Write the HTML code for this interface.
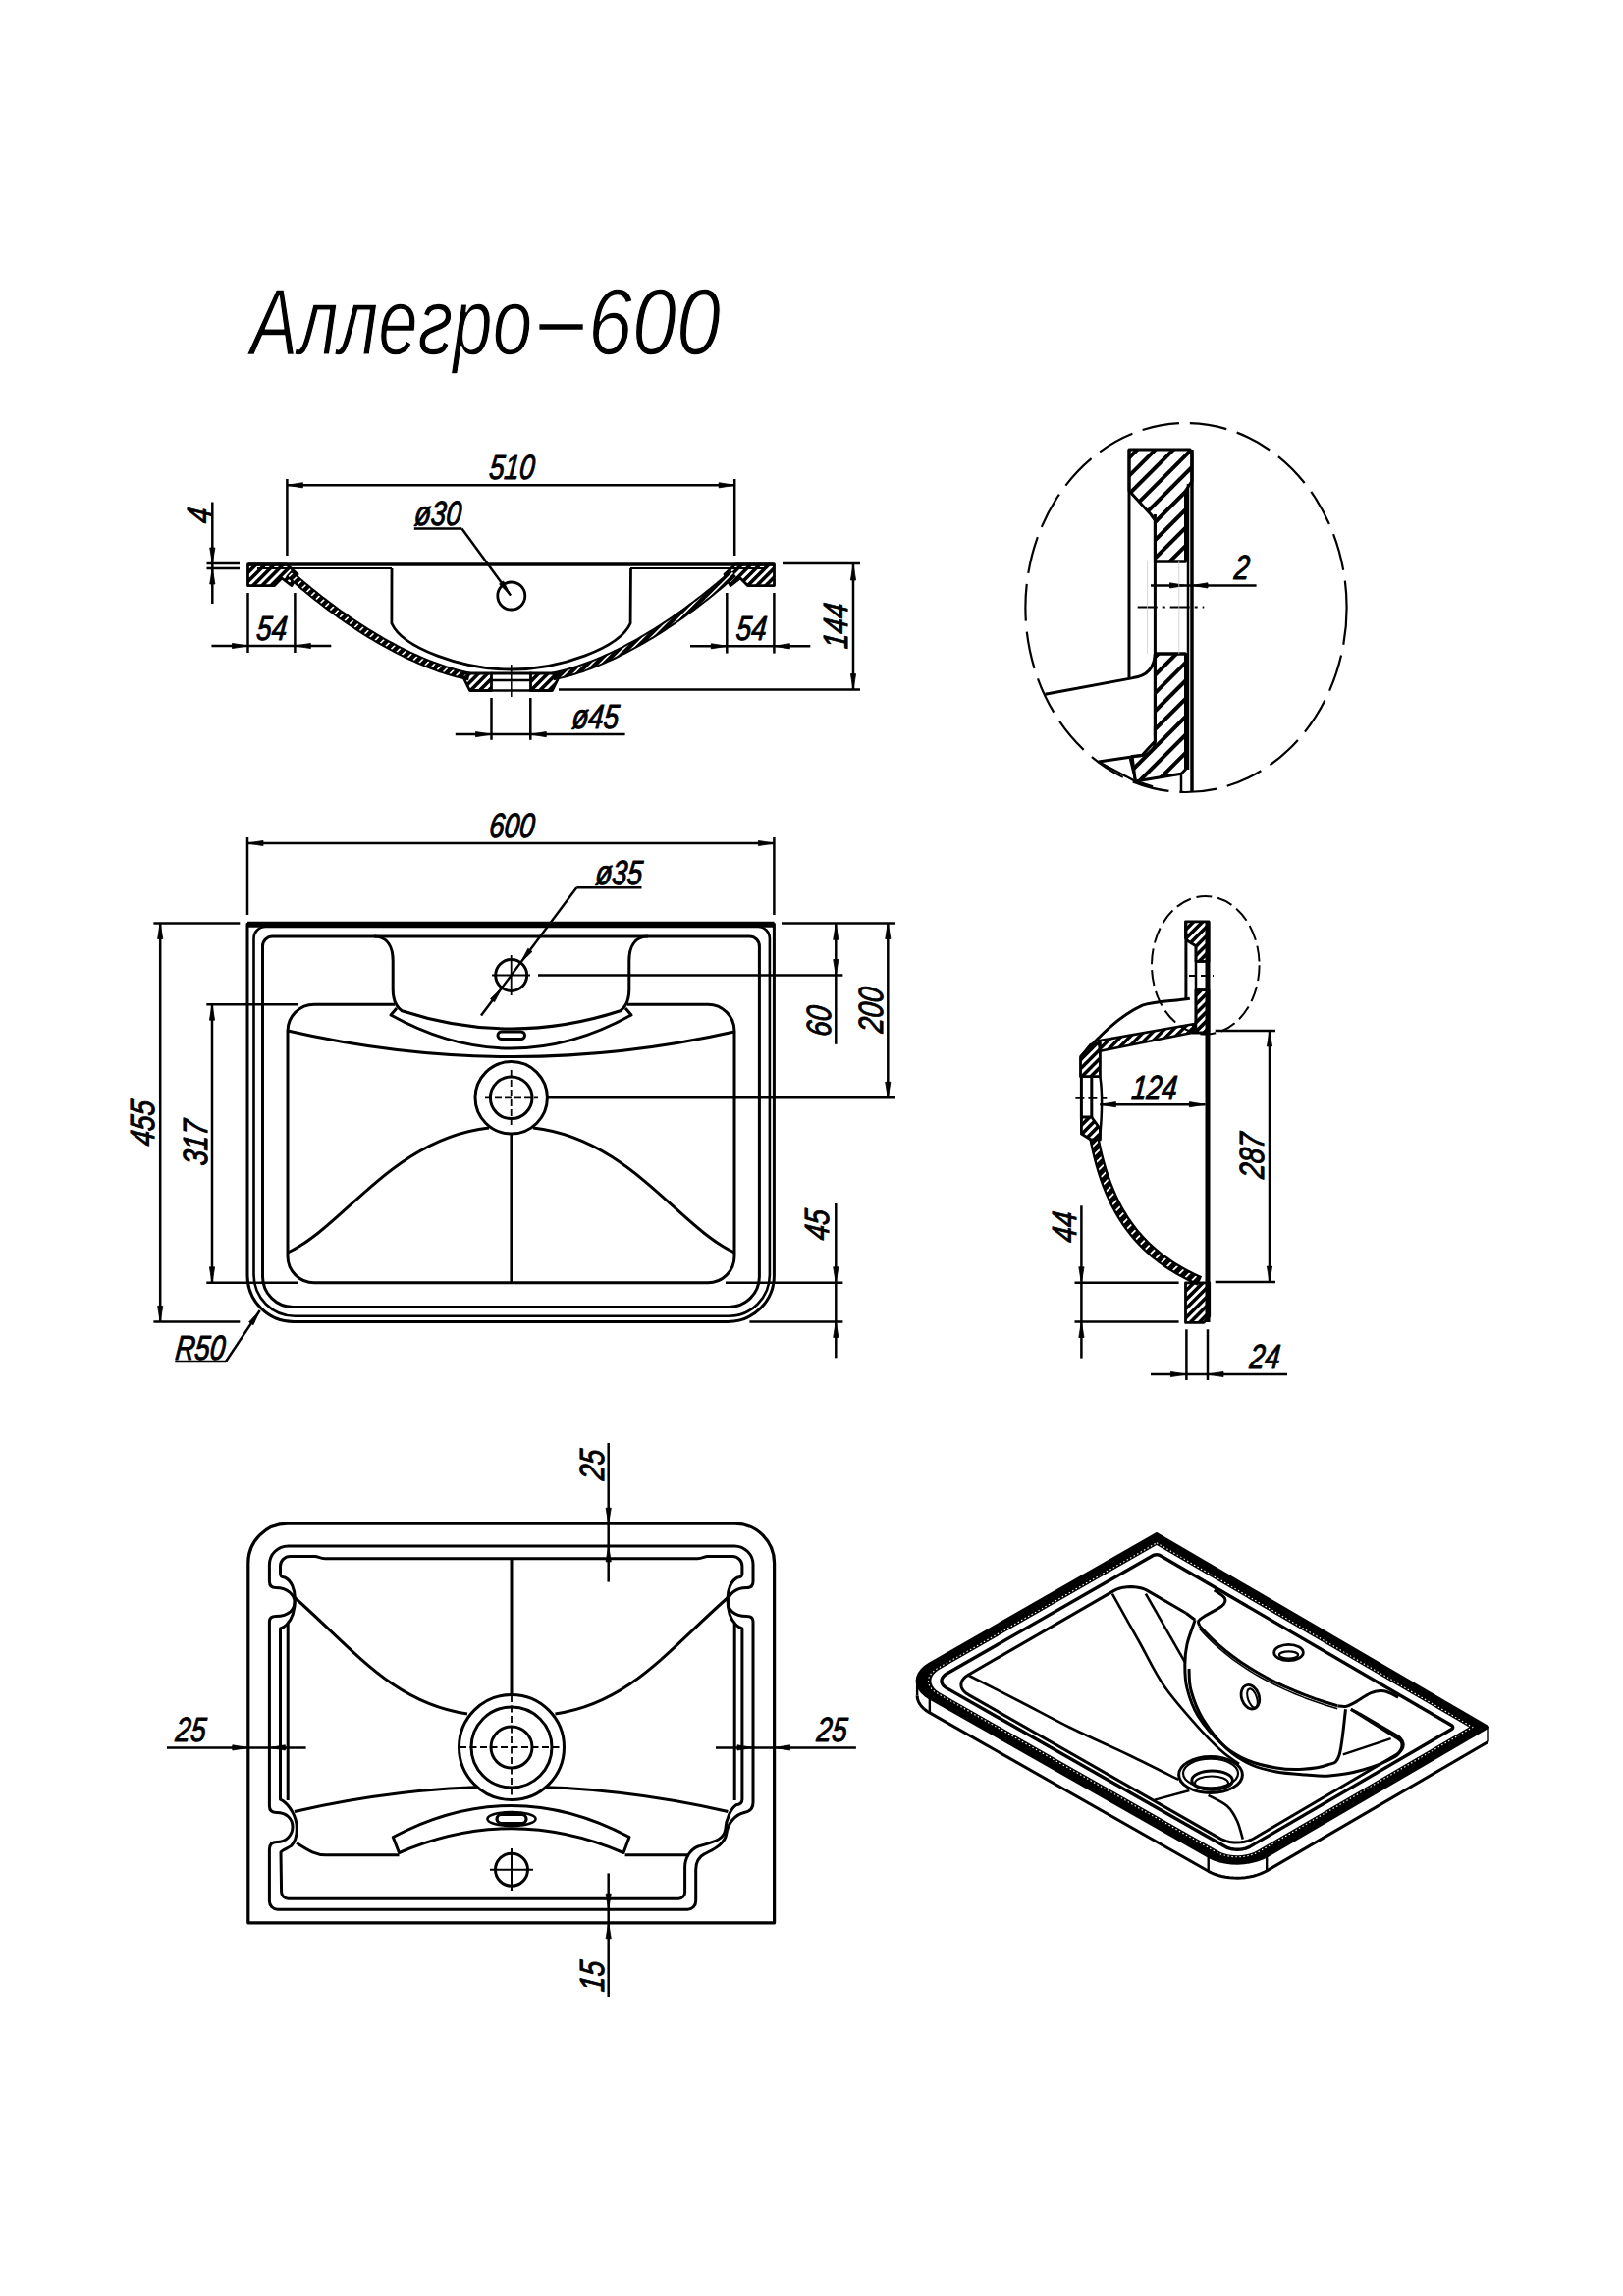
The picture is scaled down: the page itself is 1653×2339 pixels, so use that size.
<!DOCTYPE html>
<html><head><meta charset="utf-8"><style>
html,body{margin:0;padding:0;background:#fff;overflow:hidden;width:1653px;height:2339px;}
svg{display:block;}
text{font-family:"Liberation Sans", sans-serif;}
</style></head><body>
<svg width="1653" height="2339" viewBox="0 0 1653 2339" stroke="#000" fill="none" stroke-linecap="butt" stroke-linejoin="round">
<defs>
<clipPath id="c0"><path d="M252.5,575 L292,575 L303,585 L297,596.6 L287,589 L279.5,596.6 L252.5,596.6 Z"/></clipPath><clipPath id="c1"><path d="M292.41,585.8 L295.32,588.38 L298.3,590.98 L301.34,593.6 L304.43,596.24 L307.59,598.9 L310.8,601.56 L314.06,604.23 L317.38,606.91 L320.75,609.6 L324.16,612.28 L327.63,614.97 L331.15,617.65 L334.71,620.32 L338.31,622.99 L341.96,625.65 L345.65,628.29 L349.38,630.92 L353.15,633.53 L356.95,636.12 L360.79,638.68 L364.67,641.23 L368.58,643.74 L372.53,646.22 L376.5,648.67 L380.5,651.09 L384.53,653.47 L388.59,655.81 L392.67,658.1 L396.78,660.35 L400.91,662.56 L405.06,664.71 L409.23,666.82 L413.42,668.86 L417.62,670.85 L421.84,672.79 L426.08,674.66 L430.33,676.46 L434.58,678.2 L438.85,679.87 L443.13,681.46 L447.42,682.99 L451.71,684.43 L456.01,685.8 L460.31,687.08 L464.61,688.28 L468.91,689.4 L473.22,690.42 L477.49,691.35 L478.51,686.65 L474.28,685.74 L470.07,684.74 L465.86,683.65 L461.64,682.47 L457.42,681.21 L453.2,679.87 L448.99,678.45 L444.77,676.95 L440.57,675.38 L436.36,673.74 L432.17,672.03 L427.99,670.25 L423.81,668.41 L419.65,666.5 L415.5,664.54 L411.36,662.52 L407.25,660.44 L403.15,658.31 L399.06,656.13 L395,653.91 L390.97,651.64 L386.95,649.32 L382.96,646.97 L379,644.58 L375.07,642.15 L371.16,639.69 L367.29,637.2 L363.44,634.68 L359.64,632.14 L355.86,629.57 L352.13,626.98 L348.43,624.38 L344.77,621.76 L341.15,619.12 L337.57,616.47 L334.04,613.82 L330.56,611.16 L327.12,608.5 L323.72,605.83 L320.38,603.17 L317.09,600.51 L313.85,597.86 L310.67,595.21 L307.54,592.58 L304.46,589.96 L301.45,587.36 L298.49,584.77 L295.59,582.2 Z"/></clipPath><clipPath id="c2"><path d="M470,686 L500.5,686 L500.5,703.5 L478.5,703.5 Z"/></clipPath><clipPath id="c3"><path d="M788.5,575 L749,575 L738,585 L744,596.6 L754,589 L761.5,596.6 L788.5,596.6 Z"/></clipPath><clipPath id="c4"><path d="M745.41,582.2 L742.51,584.77 L739.55,587.36 L736.54,589.96 L733.46,592.58 L730.33,595.21 L727.15,597.86 L723.91,600.51 L720.62,603.17 L717.28,605.83 L713.88,608.5 L710.44,611.16 L706.96,613.82 L703.43,616.47 L699.85,619.12 L696.23,621.76 L692.57,624.38 L688.87,626.98 L685.14,629.57 L681.36,632.14 L677.56,634.68 L673.71,637.2 L669.84,639.69 L665.93,642.15 L662,644.58 L658.04,646.97 L654.05,649.32 L650.03,651.64 L646,653.91 L641.94,656.13 L637.85,658.31 L633.75,660.44 L629.64,662.52 L625.5,664.54 L621.35,666.5 L617.19,668.41 L613.01,670.25 L608.83,672.03 L604.64,673.74 L600.43,675.38 L596.23,676.95 L592.01,678.45 L587.8,679.87 L583.58,681.21 L579.36,682.47 L575.14,683.65 L570.93,684.74 L566.72,685.74 L562.49,686.65 L563.51,691.35 L567.78,690.42 L572.09,689.4 L576.39,688.28 L580.69,687.08 L584.99,685.8 L589.29,684.43 L593.58,682.99 L597.87,681.46 L602.15,679.87 L606.42,678.2 L610.67,676.46 L614.92,674.66 L619.16,672.79 L623.38,670.85 L627.58,668.86 L631.77,666.82 L635.94,664.71 L640.09,662.56 L644.22,660.35 L648.33,658.1 L652.41,655.81 L656.47,653.47 L660.5,651.09 L664.5,648.67 L668.47,646.22 L672.42,643.74 L676.33,641.23 L680.21,638.68 L684.05,636.12 L687.85,633.53 L691.62,630.92 L695.35,628.29 L699.04,625.65 L702.69,622.99 L706.29,620.32 L709.85,617.65 L713.37,614.97 L716.84,612.28 L720.25,609.6 L723.62,606.91 L726.94,604.23 L730.2,601.56 L733.41,598.9 L736.57,596.24 L739.66,593.6 L742.7,590.98 L745.68,588.38 L748.59,585.8 Z"/></clipPath><clipPath id="c5"><path d="M571,686 L540.5,686 L540.5,703.5 L562.5,703.5 Z"/></clipPath><clipPath id="c6"><path d="M1150,458 L1212,458 L1214,462 L1214,490 L1207.5,500 L1207.5,572 L1176.4,572 L1176.4,530 L1172,524 L1150,500 Z"/></clipPath><clipPath id="c7"><path d="M1176.4,666 L1207.5,666 L1207.5,783.8 L1203,788.2 L1156.4,796 L1153,770.5 L1163,769.5 L1176.4,755 Z"/></clipPath><clipPath id="c8"><path d="M1207.5,938.8 L1231,938.8 L1231,979.4 L1218,979.4 L1218,963.8 L1210,958.7 L1207.5,956 Z"/></clipPath><clipPath id="c9"><path d="M1218,1008.7 L1231,1008.7 L1231,1052 L1215,1052 L1218,1040 Z"/></clipPath><clipPath id="c10"><path d="M1118.7,1060.4 L1215.3,1043.2 L1215.3,1051.8 L1120.4,1070.8 Z"/></clipPath><clipPath id="c11"><path d="M1100.5,1076.8 L1111,1064 L1120.4,1062 L1120.4,1096.7 L1100.5,1096.7 Z"/></clipPath><clipPath id="c12"><path d="M1101.4,1138 L1111.8,1138 L1120.4,1150 L1120.4,1161 L1111,1161 L1101.4,1155 Z"/></clipPath><clipPath id="c13"><path d="M1111.75,1160.55 L1112.63,1164.95 L1113.56,1169.3 L1114.53,1173.59 L1115.55,1177.81 L1116.61,1181.98 L1117.72,1186.08 L1118.87,1190.13 L1120.08,1194.11 L1121.34,1198.03 L1122.65,1201.9 L1124.01,1205.7 L1125.42,1209.45 L1126.89,1213.13 L1128.42,1216.76 L1130,1220.33 L1131.65,1223.85 L1133.35,1227.3 L1135.11,1230.7 L1136.93,1234.05 L1138.82,1237.33 L1140.76,1240.56 L1142.78,1243.74 L1144.86,1246.86 L1147,1249.92 L1149.21,1252.93 L1151.49,1255.88 L1153.84,1258.78 L1156.27,1261.62 L1158.76,1264.41 L1161.32,1267.15 L1163.96,1269.83 L1166.67,1272.46 L1169.46,1275.04 L1172.32,1277.56 L1175.26,1280.03 L1178.28,1282.45 L1181.37,1284.82 L1184.55,1287.14 L1187.8,1289.4 L1191.14,1291.62 L1194.56,1293.78 L1198.06,1295.89 L1201.64,1297.96 L1205.32,1299.98 L1209.07,1301.94 L1212.91,1303.86 L1216.85,1305.73 L1220.84,1307.55 L1223.16,1302.45 L1219.21,1300.66 L1215.37,1298.83 L1211.62,1296.96 L1207.96,1295.04 L1204.39,1293.08 L1200.9,1291.07 L1197.5,1289.02 L1194.19,1286.92 L1190.95,1284.77 L1187.8,1282.58 L1184.72,1280.33 L1181.73,1278.04 L1178.81,1275.71 L1175.97,1273.32 L1173.21,1270.88 L1170.52,1268.4 L1167.91,1265.86 L1165.36,1263.27 L1162.89,1260.63 L1160.49,1257.94 L1158.15,1255.2 L1155.88,1252.41 L1153.68,1249.56 L1151.55,1246.65 L1149.48,1243.7 L1147.47,1240.69 L1145.53,1237.62 L1143.64,1234.49 L1141.82,1231.31 L1140.05,1228.08 L1138.35,1224.78 L1136.7,1221.43 L1135.1,1218.01 L1133.56,1214.54 L1132.08,1211.01 L1130.64,1207.42 L1129.26,1203.77 L1127.94,1200.05 L1126.66,1196.28 L1125.43,1192.44 L1124.25,1188.54 L1123.11,1184.58 L1122.03,1180.56 L1120.98,1176.47 L1119.99,1172.31 L1119.03,1168.1 L1118.12,1163.81 L1117.25,1159.45 Z"/></clipPath><clipPath id="c14"><path d="M1207.5,1306.8 L1231.7,1306.8 L1231.7,1341 L1226,1347.4 L1207.5,1347.4 Z"/></clipPath>
<pattern id="h1" patternUnits="userSpaceOnUse" width="7" height="7" patternTransform="rotate(45)"><rect width="7" height="7" fill="#000"/><line x1="0" y1="3.5" x2="7" y2="3.5" stroke="#fff" stroke-width="1.6"/></pattern>
<pattern id="h2" patternUnits="userSpaceOnUse" width="7" height="7" patternTransform="rotate(-45)"><rect width="7" height="7" fill="#fff"/><line x1="0" y1="3.5" x2="7" y2="3.5" stroke="#000" stroke-width="2.6"/></pattern>
<pattern id="h3" patternUnits="userSpaceOnUse" width="13" height="13" patternTransform="rotate(-45)"><rect width="13" height="13" fill="#fff"/><line x1="0" y1="6.5" x2="13" y2="6.5" stroke="#000" stroke-width="3"/></pattern>
</defs>
<rect x="0" y="0" width="1653" height="2339" fill="#fff" stroke="none"/>
<text x="255" y="361" font-size="96" font-style="italic" fill="#000" stroke="#fff" stroke-width="1.3" textLength="287" lengthAdjust="spacingAndGlyphs">Аллегро</text>
<text x="599" y="361" font-size="96" font-style="italic" fill="#000" stroke="#fff" stroke-width="1.3" textLength="135" lengthAdjust="spacingAndGlyphs">600</text>
<line x1="549.4" y1="333" x2="593.7" y2="333" stroke-width="5.5" />
<line x1="292.4" y1="488" x2="292.4" y2="566" stroke-width="2.5" />
<line x1="748.2" y1="488" x2="748.2" y2="566" stroke-width="2.5" />
<line x1="292.4" y1="494.3" x2="748.2" y2="494.3" stroke-width="2.5" />
<polygon points="292.4,494.3 308.4,491.7 308.4,496.9" stroke-width="0.8" fill="#000" stroke="#000"/>
<polygon points="748.2,494.3 732.2,496.9 732.2,491.7" stroke-width="0.8" fill="#000" stroke="#000"/>
<text transform="translate(520.5,487.5) scale(0.79,1) skewX(-7)" text-anchor="middle" font-size="35" font-style="italic" fill="#000" stroke="#000" stroke-width="1.0" >510</text>
<line x1="252.5" y1="575" x2="788.4" y2="575" stroke-width="3.5" />
<line x1="262" y1="579" x2="399" y2="579" stroke-width="2.2" />
<line x1="642" y1="579" x2="779" y2="579" stroke-width="2.2" />
<g clip-path="url(#c0)"><path d="M213.38,604.12 L604.12,213.38 M217.97,608.72 L608.72,217.97 M222.57,613.32 L613.32,222.57 M227.16,617.91 L617.91,227.16 M231.76,622.51 L622.51,231.76 M236.36,627.1 L627.1,236.36 M240.95,631.7 L631.7,240.95 M245.55,636.3 L636.3,245.55 M250.15,640.89 L640.89,250.15 M254.74,645.49 L645.49,254.74 M259.34,650.09 L650.09,259.34" stroke-width="3.6" stroke="#000"/></g>
<path d="M252.5,575 L292,575 L303,585 L297,596.6 L287,589 L279.5,596.6 L252.5,596.6 Z" stroke-width="2.8"/>
<polygon points="291.08,587.29 294,589.88 296.99,592.49 300.04,595.12 303.14,597.77 306.31,600.43 309.52,603.1 312.8,605.79 316.13,608.47 319.5,611.17 322.93,613.86 326.41,616.55 329.94,619.24 333.51,621.93 337.13,624.6 340.79,627.27 344.49,629.92 348.23,632.56 352.01,635.18 355.83,637.78 359.69,640.35 363.58,642.9 367.51,645.43 371.47,647.92 375.46,650.38 379.48,652.81 383.53,655.2 387.6,657.55 391.7,659.85 395.83,662.11 399.98,664.33 404.15,666.49 408.34,668.61 412.55,670.67 416.78,672.67 421.02,674.61 425.28,676.49 429.56,678.31 433.84,680.06 438.14,681.74 442.45,683.34 446.76,684.88 451.09,686.33 455.42,687.71 459.75,689 464.09,690.21 468.43,691.34 472.77,692.37 477.07,693.3 478.93,684.7 474.72,683.79 470.55,682.8 466.38,681.71 462.19,680.55 458.01,679.3 453.83,677.97 449.64,676.56 445.46,675.07 441.28,673.51 437.11,671.88 432.94,670.18 428.78,668.42 424.63,666.58 420.49,664.69 416.37,662.74 412.25,660.73 408.16,658.66 404.08,656.54 400.02,654.37 395.98,652.16 391.96,649.9 387.96,647.59 383.99,645.25 380.04,642.87 376.12,640.45 372.23,638 368.37,635.52 364.55,633.01 360.75,630.48 356.99,627.92 353.27,625.34 349.59,622.75 345.94,620.13 342.33,617.51 338.77,614.87 335.25,612.23 331.77,609.58 328.35,606.92 324.96,604.26 321.63,601.61 318.35,598.96 315.12,596.31 311.95,593.68 308.83,591.05 305.76,588.44 302.76,585.85 299.81,583.27 296.92,580.71" stroke-width="0" fill="#000" />
<g clip-path="url(#c1)"><path d="M-236.42,1101.03 L1101.03,-236.42 M-232.18,1105.28 L1105.28,-232.18 M-227.94,1109.52 L1109.52,-227.94 M-223.69,1113.76 L1113.76,-223.69 M-219.45,1118.01 L1118.01,-219.45 M-215.21,1122.25 L1122.25,-215.21 M-210.97,1126.49 L1126.49,-210.97 M-206.72,1130.73 L1130.73,-206.72 M-202.48,1134.98 L1134.98,-202.48 M-198.24,1139.22 L1139.22,-198.24 M-194,1143.46 L1143.46,-194 M-189.75,1147.7 L1147.7,-189.75 M-185.51,1151.95 L1151.95,-185.51 M-181.27,1156.19 L1156.19,-181.27 M-177.03,1160.43 L1160.43,-177.03 M-172.78,1164.67 L1164.67,-172.78 M-168.54,1168.92 L1168.92,-168.54 M-164.3,1173.16 L1173.16,-164.3 M-160.06,1177.4 L1177.4,-160.06 M-155.81,1181.64 L1181.64,-155.81 M-151.57,1185.89 L1185.89,-151.57 M-147.33,1190.13 L1190.13,-147.33 M-143.08,1194.37 L1194.37,-143.08 M-138.84,1198.62 L1198.62,-138.84 M-134.6,1202.86 L1202.86,-134.6 M-130.36,1207.1 L1207.1,-130.36 M-126.11,1211.34 L1211.34,-126.11 M-121.87,1215.59 L1215.59,-121.87 M-117.63,1219.83 L1219.83,-117.63 M-113.39,1224.07 L1224.07,-113.39 M-109.14,1228.31 L1228.31,-109.14 M-104.9,1232.56 L1232.56,-104.9 M-100.66,1236.8 L1236.8,-100.66 M-96.42,1241.04 L1241.04,-96.42 M-92.17,1245.28 L1245.28,-92.17 M-87.93,1249.53 L1249.53,-87.93 M-83.69,1253.77 L1253.77,-83.69 M-79.44,1258.01 L1258.01,-79.44" stroke-width="1.6" stroke="#fff"/></g>
<g clip-path="url(#c2)"><path d="M428.75,717.25 L717.25,428.75 M433.35,721.85 L721.85,433.35 M437.94,726.44 L726.44,437.94 M442.54,731.04 L731.04,442.54 M447.13,735.63 L735.63,447.13 M451.73,740.23 L740.23,451.73 M456.33,744.83 L744.83,456.33 M460.92,749.42 L749.42,460.92" stroke-width="3.6" stroke="#000"/></g>
<path d="M470,686 L500.5,686 L500.5,703.5 L478.5,703.5 Z" stroke-width="2.8"/>
<g clip-path="url(#c3)"><path d="M456.13,846.87 L846.87,456.13 M460.72,851.47 L851.47,460.72 M465.32,856.07 L856.07,465.32 M469.91,860.66 L860.66,469.91 M474.51,865.26 L865.26,474.51 M479.11,869.85 L869.85,479.11 M483.7,874.45 L874.45,483.7 M488.3,879.05 L879.05,488.3 M492.9,883.64 L883.64,492.9 M497.49,888.24 L888.24,497.49 M502.09,892.84 L892.84,502.09" stroke-width="3.6" stroke="#000"/></g>
<path d="M788.5,575 L749,575 L738,585 L744,596.6 L754,589 L761.5,596.6 L788.5,596.6 Z" stroke-width="2.8"/>
<polygon points="744.08,580.71 741.19,583.27 738.24,585.85 735.24,588.44 732.17,591.05 729.05,593.68 725.88,596.31 722.65,598.96 719.37,601.61 716.04,604.26 712.65,606.92 709.23,609.58 705.75,612.23 702.23,614.87 698.67,617.51 695.06,620.13 691.41,622.75 687.73,625.34 684.01,627.92 680.25,630.48 676.45,633.01 672.63,635.52 668.77,638 664.88,640.45 660.96,642.87 657.01,645.25 653.04,647.59 649.04,649.9 645.02,652.16 640.98,654.37 636.92,656.54 632.84,658.66 628.75,660.73 624.63,662.74 620.51,664.69 616.37,666.58 612.22,668.42 608.06,670.18 603.89,671.88 599.72,673.51 595.54,675.07 591.36,676.56 587.17,677.97 582.99,679.3 578.81,680.55 574.62,681.71 570.45,682.8 566.28,683.79 562.07,684.7 563.93,693.3 568.23,692.37 572.57,691.34 576.91,690.21 581.25,689 585.58,687.71 589.91,686.33 594.24,684.88 598.55,683.34 602.86,681.74 607.16,680.06 611.44,678.31 615.72,676.49 619.98,674.61 624.22,672.67 628.45,670.67 632.66,668.61 636.85,666.49 641.02,664.33 645.17,662.11 649.3,659.85 653.4,657.55 657.47,655.2 661.52,652.81 665.54,650.38 669.53,647.92 673.49,645.43 677.42,642.9 681.31,640.35 685.17,637.78 688.99,635.18 692.77,632.56 696.51,629.92 700.21,627.27 703.87,624.6 707.49,621.93 711.06,619.24 714.59,616.55 718.07,613.86 721.5,611.17 724.87,608.47 728.2,605.79 731.48,603.1 734.69,600.43 737.86,597.77 740.96,595.12 744.01,592.49 747,589.88 749.92,587.29" stroke-width="0" fill="#000" />
<g clip-path="url(#c4)"><path d="M-101.38,1236.08 L1236.08,-101.38 M-97.14,1240.32 L1240.32,-97.14 M-92.9,1244.56 L1244.56,-92.9 M-88.65,1248.8 L1248.8,-88.65 M-84.41,1253.05 L1253.05,-84.41 M-80.17,1257.29 L1257.29,-80.17 M-75.93,1261.53 L1261.53,-75.93 M-71.68,1265.77 L1265.77,-71.68 M-67.44,1270.02 L1270.02,-67.44 M-63.2,1274.26 L1274.26,-63.2 M-58.95,1278.5 L1278.5,-58.95 M-54.71,1282.75 L1282.75,-54.71 M-50.47,1286.99 L1286.99,-50.47 M-46.23,1291.23 L1291.23,-46.23 M-41.98,1295.47 L1295.47,-41.98 M-37.74,1299.72 L1299.72,-37.74 M-33.5,1303.96 L1303.96,-33.5 M-29.26,1308.2 L1308.2,-29.26 M-25.01,1312.44 L1312.44,-25.01 M-20.77,1316.69 L1316.69,-20.77 M-16.53,1320.93 L1320.93,-16.53 M-12.29,1325.17 L1325.17,-12.29 M-8.04,1329.41 L1329.41,-8.04 M-3.8,1333.66 L1333.66,-3.8 M0.44,1337.9 L1337.9,0.44 M4.68,1342.14 L1342.14,4.68 M8.93,1346.38 L1346.38,8.93 M13.17,1350.63 L1350.63,13.17 M17.41,1354.87 L1354.87,17.41 M21.66,1359.11 L1359.11,21.66 M25.9,1363.36 L1363.36,25.9 M30.14,1367.6 L1367.6,30.14 M34.38,1371.84 L1371.84,34.38 M38.63,1376.08 L1376.08,38.63 M42.87,1380.33 L1380.33,42.87 M47.11,1384.57 L1384.57,47.11 M51.35,1388.81 L1388.81,51.35 M55.6,1393.05 L1393.05,55.6" stroke-width="1.6" stroke="#fff"/></g>
<g clip-path="url(#c5)"><path d="M464,752.5 L752.5,464 M468.6,757.1 L757.1,468.6 M473.19,761.69 L761.69,473.19 M477.79,766.29 L766.29,477.79 M482.38,770.88 L770.88,482.38 M486.98,775.48 L775.48,486.98 M491.58,780.08 L780.08,491.58 M496.17,784.67 L784.67,496.17" stroke-width="3.6" stroke="#000"/></g>
<path d="M571,686 L540.5,686 L540.5,703.5 L562.5,703.5 Z" stroke-width="2.8"/>
<line x1="500.5" y1="686" x2="541.3" y2="686" stroke-width="3" />
<line x1="500.5" y1="693" x2="541.3" y2="693" stroke-width="2.5" />
<line x1="500.5" y1="703.5" x2="541.3" y2="703.5" stroke-width="2.5" />
<line x1="520.8" y1="677" x2="520.8" y2="710" stroke-width="1.5" />
<path d="M399,579 L398.9,635 C410,660 470,682 520.5,682 C571,682 631,660 642.1,635 L642.5,579" stroke-width="2.8" fill="none" />
<circle cx="520.8" cy="607" r="14" stroke-width="2.8" />
<line x1="520" y1="606.4" x2="470.4" y2="538.4" stroke-width="2.5" />
<line x1="470.4" y1="538.4" x2="421.8" y2="538.4" stroke-width="2.5" />
<polygon points="520,606.4 508.47,595.01 512.67,591.94" stroke-width="0.8" fill="#000" stroke="#000"/>
<text transform="translate(445,535) scale(0.79,1) skewX(-7)" text-anchor="middle" font-size="35" font-style="italic" fill="#000" stroke="#000" stroke-width="1.0" >ø30</text>
<line x1="216.3" y1="511.5" x2="216.3" y2="615" stroke-width="2.5" />
<line x1="210.5" y1="574" x2="244" y2="574" stroke-width="2.5" />
<line x1="210.5" y1="579" x2="244" y2="579" stroke-width="2.5" />
<polygon points="216.3,574 213.7,558 218.9,558" stroke-width="0.8" fill="#000" stroke="#000"/>
<polygon points="216.3,579 218.9,595 213.7,595" stroke-width="0.8" fill="#000" stroke="#000"/>
<text transform="translate(214.6,526) rotate(-90) scale(0.79,1) skewX(-7)" text-anchor="middle" font-size="35" font-style="italic" fill="#000" stroke="#000" stroke-width="1.0">4</text>
<line x1="252.5" y1="604" x2="252.5" y2="665" stroke-width="2.5" />
<line x1="300.4" y1="604" x2="300.4" y2="665" stroke-width="2.5" />
<line x1="215.4" y1="658" x2="337.3" y2="658" stroke-width="2.5" />
<polygon points="252.5,658 236.5,660.6 236.5,655.4" stroke-width="0.8" fill="#000" stroke="#000"/>
<polygon points="300.4,658 316.4,655.4 316.4,660.6" stroke-width="0.8" fill="#000" stroke="#000"/>
<text transform="translate(276,652) scale(0.79,1) skewX(-7)" text-anchor="middle" font-size="35" font-style="italic" fill="#000" stroke="#000" stroke-width="1.0" >54</text>
<line x1="740.3" y1="604" x2="740.3" y2="665.6" stroke-width="2.5" />
<line x1="788.4" y1="604" x2="788.4" y2="665.6" stroke-width="2.5" />
<line x1="703" y1="658.3" x2="825.3" y2="658.3" stroke-width="2.5" />
<polygon points="740.3,658.3 724.3,660.9 724.3,655.7" stroke-width="0.8" fill="#000" stroke="#000"/>
<polygon points="788.4,658.3 804.4,655.7 804.4,660.9" stroke-width="0.8" fill="#000" stroke="#000"/>
<text transform="translate(764.5,652) scale(0.79,1) skewX(-7)" text-anchor="middle" font-size="35" font-style="italic" fill="#000" stroke="#000" stroke-width="1.0" >54</text>
<line x1="797" y1="574" x2="876" y2="574" stroke-width="2.5" />
<line x1="569" y1="702.6" x2="876" y2="702.6" stroke-width="2.5" />
<line x1="869" y1="575" x2="869" y2="702.6" stroke-width="2.5" />
<polygon points="869,575 871.6,591 866.4,591" stroke-width="0.8" fill="#000" stroke="#000"/>
<polygon points="869,702.6 866.4,686.6 871.6,686.6" stroke-width="0.8" fill="#000" stroke="#000"/>
<text transform="translate(862.6,638.5) rotate(-90) scale(0.79,1) skewX(-7)" text-anchor="middle" font-size="35" font-style="italic" fill="#000" stroke="#000" stroke-width="1.0">144</text>
<line x1="500.5" y1="711" x2="500.5" y2="753.8" stroke-width="2.5" />
<line x1="540.3" y1="711" x2="540.3" y2="753.8" stroke-width="2.5" />
<line x1="463.8" y1="748.1" x2="636.6" y2="748.1" stroke-width="2.5" />
<polygon points="500.5,748.1 484.5,750.7 484.5,745.5" stroke-width="0.8" fill="#000" stroke="#000"/>
<polygon points="540.3,748.1 556.3,745.5 556.3,750.7" stroke-width="0.8" fill="#000" stroke="#000"/>
<text transform="translate(605.5,742) scale(0.79,1) skewX(-7)" text-anchor="middle" font-size="35" font-style="italic" fill="#000" stroke="#000" stroke-width="1.0" >ø45</text>
<ellipse cx="1208" cy="619" rx="163.6" ry="188" stroke-width="2.2" stroke-dasharray="38 11"/>
<g clip-path="url(#c6)"><path d="M378.98,1219.02 L1219.02,378.98 M388.17,1228.21 L1228.21,388.17 M397.36,1237.41 L1237.41,397.36 M406.56,1246.6 L1246.6,406.56 M415.75,1255.79 L1255.79,415.75 M424.94,1264.98 L1264.98,424.94 M434.13,1274.18 L1274.18,434.13 M443.33,1283.37 L1283.37,443.33 M452.52,1292.56 L1292.56,452.52 M461.71,1301.75 L1301.75,461.71 M470.9,1310.95 L1310.95,470.9" stroke-width="4" stroke="#000"/></g>
<path d="M1150,458 L1212,458 L1214,462 L1214,490 L1207.5,500 L1207.5,572 L1176.4,572 L1176.4,530 L1172,524 L1150,500 Z" stroke-width="3"/>
<g clip-path="url(#c7)"><path d="M470.69,1338.31 L1338.31,470.69 M479.88,1347.5 L1347.5,479.88 M489.07,1356.69 L1356.69,489.07 M498.27,1365.89 L1365.89,498.27 M507.46,1375.08 L1375.08,507.46 M516.65,1384.27 L1384.27,516.65 M525.84,1393.46 L1393.46,525.84 M535.04,1402.66 L1402.66,535.04 M544.23,1411.85 L1411.85,544.23 M553.42,1421.04 L1421.04,553.42 M562.61,1430.23 L1430.23,562.61 M571.81,1439.43 L1439.43,571.81" stroke-width="4" stroke="#000"/></g>
<path d="M1176.4,666 L1207.5,666 L1207.5,783.8 L1203,788.2 L1156.4,796 L1153,770.5 L1163,769.5 L1176.4,755 Z" stroke-width="3"/>
<line x1="1214" y1="458" x2="1214" y2="807" stroke-width="3.5" />
<line x1="1210" y1="493" x2="1210" y2="784" stroke-width="2.5" />
<line x1="1150" y1="458" x2="1150" y2="690.6" stroke-width="3" />
<line x1="1176.4" y1="524" x2="1176.4" y2="750" stroke-width="3" />
<line x1="1176.4" y1="572" x2="1207.5" y2="572" stroke-width="3" />
<line x1="1176.4" y1="666" x2="1207.5" y2="666" stroke-width="3" />
<path d="M1064.4,707.3 L1154,690.6 Q1175,688 1176.4,666.2" stroke-width="3" fill="none" />
<path d="M1118.7,776 L1163,769.5 Q1176.4,767.5 1176.4,755 L1176.4,740" stroke-width="3" fill="none" />
<line x1="1118.7" y1="776" x2="1156.4" y2="796" stroke-width="2.4" />
<line x1="1151" y1="772.7" x2="1156.4" y2="795" stroke-width="2.5" />
<line x1="1154" y1="795" x2="1174" y2="801.5" stroke-width="2.5" />
<line x1="1203" y1="788" x2="1203" y2="807" stroke-width="2.5" />
<line x1="1172" y1="596.4" x2="1279.6" y2="596.4" stroke-width="2.5" />
<polygon points="1207.5,596.4 1191.5,599 1191.5,593.8" stroke-width="0.8" fill="#000" stroke="#000"/>
<polygon points="1214,596.4 1230,593.8 1230,599" stroke-width="0.8" fill="#000" stroke="#000"/>
<text transform="translate(1264,590) scale(0.79,1) skewX(-7)" text-anchor="middle" font-size="35" font-style="italic" fill="#000" stroke="#000" stroke-width="1.0" >2</text>
<line x1="1158.7" y1="618.5" x2="1226.3" y2="618.5" stroke-width="1.8" stroke-dasharray="20 5 3 5"/>
<line x1="1168.6" y1="572" x2="1168.6" y2="666" stroke-width="0.8" stroke="#ccc"/>
<line x1="1200.8" y1="572" x2="1200.8" y2="666" stroke-width="0.8" stroke="#ccc"/>
<line x1="252" y1="853" x2="252" y2="932" stroke-width="2.5" />
<line x1="788.4" y1="853" x2="788.4" y2="932" stroke-width="2.5" />
<line x1="252" y1="859" x2="788.4" y2="859" stroke-width="2.5" />
<polygon points="252,859 268,856.4 268,861.6" stroke-width="0.8" fill="#000" stroke="#000"/>
<polygon points="788.4,859 772.4,861.6 772.4,856.4" stroke-width="0.8" fill="#000" stroke="#000"/>
<text transform="translate(520.5,852.6) scale(0.79,1) skewX(-7)" text-anchor="middle" font-size="35" font-style="italic" fill="#000" stroke="#000" stroke-width="1.0" >600</text>
<path d="M252,941.3 L788.4,941.3 L788.4,1299.4 A47,47 0 0 1 741.4,1346.4 L299,1346.4 A47,47 0 0 1 252,1299.4 Z" stroke-width="3" fill="none" />
<line x1="252" y1="941.8" x2="788.4" y2="941.8" stroke-width="6" />
<path d="M258.5,956 A12,12 0 0 1 270.5,944 L771.9,944 A12,12 0 0 1 783.9,956 L783.9,1298.8 A42,42 0 0 1 741.9,1340.8 L300.5,1340.8 A42,42 0 0 1 258.5,1298.8 Z" stroke-width="2.6" fill="none" />
<path d="M267.5,964 A10,10 0 0 1 277.5,954 L763.4,954 A10,10 0 0 1 773.4,964 L773.4,1300.4 A31,31 0 0 1 742.4,1331.4 L298.5,1331.4 A31,31 0 0 1 267.5,1300.4 Z" stroke-width="3" fill="none" />
<path d="M402,1023.2 L320,1023.2 A27,27 0 0 0 293,1050.2 L293,1279.8 A27,27 0 0 0 320,1306.8 L721,1306.8 A27,27 0 0 0 748,1279.8 L748,1050.2 A27,27 0 0 0 721,1023.2 L639,1023.2" stroke-width="3" fill="none" />
<path d="M381,954 C395,954 400.2,965 400.2,979 L400.2,1008 C400.2,1020 404,1026 409.3,1029.8 Q520.5,1066.2 631.7,1029.8 C637,1026 640.8,1020 640.8,1008 L640.8,979 C640.8,965 646,954 660,954" stroke-width="3" fill="none" />
<path d="M404,1027 L398,1034 Q520.5,1102 643,1034 L637,1027" stroke-width="3" fill="none" />
<rect x="507" y="1051" width="27.5" height="7.5" rx="3.7" stroke-width="3"/>
<path d="M293,1050 Q520.5,1102.5 748,1051" stroke-width="3" fill="none" />
<circle cx="520.7" cy="993.5" r="16" stroke-width="3" />
<line x1="501" y1="993.5" x2="540" y2="993.5" stroke-width="1.8" />
<line x1="520.7" y1="973" x2="520.7" y2="1014" stroke-width="1.8" />
<line x1="548" y1="993.5" x2="858.4" y2="993.5" stroke-width="2.5" />
<line x1="490" y1="1034.6" x2="587.3" y2="904.2" stroke-width="2.5" />
<line x1="587.3" y1="904.2" x2="653.5" y2="904.2" stroke-width="2.5" />
<polygon points="530.3,980.7 537.79,966.32 541.96,969.43" stroke-width="0.8" fill="#000" stroke="#000"/>
<polygon points="511.1,1006.3 503.61,1020.68 499.44,1017.57" stroke-width="0.8" fill="#000" stroke="#000"/>
<text transform="translate(629.5,900.8) scale(0.79,1) skewX(-7)" text-anchor="middle" font-size="35" font-style="italic" fill="#000" stroke="#000" stroke-width="1.0" >ø35</text>
<line x1="851.3" y1="941.3" x2="851.3" y2="1063.8" stroke-width="2.5" />
<polygon points="851.3,941.3 853.9,957.3 848.7,957.3" stroke-width="0.8" fill="#000" stroke="#000"/>
<polygon points="851.3,993.5 848.7,977.5 853.9,977.5" stroke-width="0.8" fill="#000" stroke="#000"/>
<text transform="translate(845.6,1041) rotate(-90) scale(0.79,1) skewX(-7)" text-anchor="middle" font-size="35" font-style="italic" fill="#000" stroke="#000" stroke-width="1.0">60</text>
<line x1="796" y1="940.5" x2="912" y2="940.5" stroke-width="2.5" />
<line x1="904.3" y1="940.5" x2="904.3" y2="1118.3" stroke-width="2.5" />
<polygon points="904.3,940.5 906.9,956.5 901.7,956.5" stroke-width="0.8" fill="#000" stroke="#000"/>
<polygon points="904.3,1118.3 901.7,1102.3 906.9,1102.3" stroke-width="0.8" fill="#000" stroke="#000"/>
<line x1="558" y1="1118.3" x2="912" y2="1118.3" stroke-width="2.5" />
<text transform="translate(899.3,1029.7) rotate(-90) scale(0.79,1) skewX(-7)" text-anchor="middle" font-size="35" font-style="italic" fill="#000" stroke="#000" stroke-width="1.0">200</text>
<line x1="156.4" y1="940.5" x2="244.3" y2="940.5" stroke-width="2.5" />
<line x1="156.4" y1="1346.4" x2="244.3" y2="1346.4" stroke-width="2.5" />
<line x1="163.2" y1="940.5" x2="163.2" y2="1346.4" stroke-width="2.5" />
<polygon points="163.2,940.5 165.8,956.5 160.6,956.5" stroke-width="0.8" fill="#000" stroke="#000"/>
<polygon points="163.2,1346.4 160.6,1330.4 165.8,1330.4" stroke-width="0.8" fill="#000" stroke="#000"/>
<text transform="translate(157.1,1145) rotate(-90) scale(0.79,1) skewX(-7)" text-anchor="middle" font-size="35" font-style="italic" fill="#000" stroke="#000" stroke-width="1.0">455</text>
<line x1="210.3" y1="1023.2" x2="303.8" y2="1023.2" stroke-width="2.5" />
<line x1="210.3" y1="1306.8" x2="303" y2="1306.8" stroke-width="2.5" />
<line x1="216" y1="1023.2" x2="216" y2="1306.8" stroke-width="2.5" />
<polygon points="216,1023.2 218.6,1039.2 213.4,1039.2" stroke-width="0.8" fill="#000" stroke="#000"/>
<polygon points="216,1306.8 213.4,1290.8 218.6,1290.8" stroke-width="0.8" fill="#000" stroke="#000"/>
<text transform="translate(210.6,1165) rotate(-90) scale(0.79,1) skewX(-7)" text-anchor="middle" font-size="35" font-style="italic" fill="#000" stroke="#000" stroke-width="1.0">317</text>
<line x1="851.3" y1="1226" x2="851.3" y2="1383.3" stroke-width="2.5" />
<line x1="739" y1="1306.8" x2="858.4" y2="1306.8" stroke-width="2.5" />
<line x1="763.4" y1="1346.4" x2="858.4" y2="1346.4" stroke-width="2.5" />
<polygon points="851.3,1306.8 848.7,1290.8 853.9,1290.8" stroke-width="0.8" fill="#000" stroke="#000"/>
<polygon points="851.3,1346.4 853.9,1362.4 848.7,1362.4" stroke-width="0.8" fill="#000" stroke="#000"/>
<text transform="translate(844.1,1248.6) rotate(-90) scale(0.79,1) skewX(-7)" text-anchor="middle" font-size="35" font-style="italic" fill="#000" stroke="#000" stroke-width="1.0">45</text>
<line x1="264.7" y1="1335" x2="230" y2="1387" stroke-width="2.5" />
<polygon points="264.7,1335 257.98,1349.75 253.66,1346.87" stroke-width="0.8" fill="#000" stroke="#000"/>
<line x1="178.3" y1="1387" x2="230" y2="1387" stroke-width="2.5" />
<text transform="translate(203,1384.7) scale(0.79,1) skewX(-7)" text-anchor="middle" font-size="35" font-style="italic" fill="#000" stroke="#000" stroke-width="1.0" >R50</text>
<circle cx="520.7" cy="1118.3" r="36.7" stroke-width="3" />
<circle cx="520.7" cy="1118.3" r="21.3" stroke-width="3" />
<line x1="494" y1="1118.3" x2="548" y2="1118.3" stroke-width="1.8" stroke-dasharray="7 3"/>
<line x1="520.7" y1="1090" x2="520.7" y2="1146" stroke-width="1.8" stroke-dasharray="7 3"/>
<line x1="520.7" y1="1155" x2="520.7" y2="1306.8" stroke-width="2.6" />
<path d="M293,1276 C350,1250 400,1160 498,1149" stroke-width="3" fill="none" />
<path d="M748,1276 C691,1250 641,1160 543,1149" stroke-width="3" fill="none" />
<ellipse cx="1227.8" cy="983.3" rx="54.8" ry="70.3" stroke-width="2" stroke-dasharray="16 6"/>
<g clip-path="url(#c8)"><path d="M889.75,1246.55 L1246.55,889.75 M894.34,1251.15 L1251.15,894.34 M898.94,1255.75 L1255.75,898.94 M903.54,1260.34 L1260.34,903.54 M908.13,1264.94 L1264.94,908.13 M912.73,1269.53 L1269.53,912.73 M917.32,1274.13 L1274.13,917.32 M921.92,1278.73 L1278.73,921.92 M926.52,1283.32 L1283.32,926.52 M931.11,1287.92 L1287.92,931.11" stroke-width="3.6" stroke="#000"/></g>
<path d="M1207.5,938.8 L1231,938.8 L1231,979.4 L1218,979.4 L1218,963.8 L1210,958.7 L1207.5,956 Z" stroke-width="2.8"/>
<line x1="1207.9" y1="938.8" x2="1207.9" y2="1017.3" stroke-width="3" />
<line x1="1218" y1="979.4" x2="1231" y2="979.4" stroke-width="2.5" />
<line x1="1218" y1="1008.7" x2="1231" y2="1008.7" stroke-width="2.5" />
<line x1="1218" y1="963.8" x2="1218" y2="1052" stroke-width="2.5" />
<g clip-path="url(#c9)"><path d="M938.63,1275.07 L1275.07,938.63 M943.23,1279.67 L1279.67,943.23 M947.82,1284.26 L1284.26,947.82 M952.42,1288.86 L1288.86,952.42 M957.01,1293.46 L1293.46,957.01 M961.61,1298.05 L1298.05,961.61 M966.21,1302.65 L1302.65,966.21 M970.8,1307.24 L1307.24,970.8 M975.4,1311.84 L1311.84,975.4" stroke-width="3.6" stroke="#000"/></g>
<path d="M1218,1008.7 L1231,1008.7 L1231,1052 L1215,1052 L1218,1040 Z" stroke-width="2.8"/>
<line x1="1230" y1="938.8" x2="1230" y2="1347" stroke-width="5" />
<line x1="1211" y1="994" x2="1236" y2="994" stroke-width="1.8" stroke-dasharray="8 4"/>
<path d="M1211.8,1017.3 C1195,1020 1175,1020 1163.5,1024.2 C1140,1035 1120,1055 1100.5,1076.8" stroke-width="3" fill="none" />
<g clip-path="url(#c10)"><path d="M770.06,1381.84 L1381.84,770.06 M774.65,1386.44 L1386.44,774.65 M779.25,1391.04 L1391.04,779.25 M783.84,1395.63 L1395.63,783.84 M788.44,1400.23 L1400.23,788.44 M793.04,1404.83 L1404.83,793.04 M797.63,1409.42 L1409.42,797.63 M802.23,1414.02 L1414.02,802.23 M806.83,1418.61 L1418.61,806.83 M811.42,1423.21 L1423.21,811.42 M816.02,1427.81 L1427.81,816.02 M820.61,1432.4 L1432.4,820.61 M825.21,1437 L1437,825.21 M829.81,1441.59 L1441.59,829.81 M834.4,1446.19 L1446.19,834.4 M839,1450.79 L1450.79,839" stroke-width="3.4" stroke="#000"/></g>
<path d="M1118.7,1060.4 L1215.3,1043.2 L1215.3,1051.8 L1120.4,1070.8 Z" stroke-width="2.6"/>
<g clip-path="url(#c11)"><path d="M918,1234.5 L1234.5,918 M922.6,1239.1 L1239.1,922.6 M927.19,1243.69 L1243.69,927.19 M931.79,1248.29 L1248.29,931.79 M936.38,1252.89 L1252.89,936.38 M940.98,1257.48 L1257.48,940.98 M945.58,1262.08 L1262.08,945.58 M950.17,1266.67 L1266.67,950.17 M954.77,1271.27 L1271.27,954.77" stroke-width="3.6" stroke="#000"/></g>
<path d="M1100.5,1076.8 L1111,1064 L1120.4,1062 L1120.4,1096.7 L1100.5,1096.7 Z" stroke-width="2.8"/>
<line x1="1101.4" y1="1096" x2="1101.4" y2="1140.4" stroke-width="3" />
<line x1="1111.8" y1="1096" x2="1111.8" y2="1138" stroke-width="3" />
<path d="M1120.4,1096.7 Q1124,1120 1120,1160" stroke-width="2.5" fill="none" />
<g clip-path="url(#c12)"><path d="M983.18,1246.22 L1246.22,983.18 M987.77,1250.82 L1250.82,987.77 M992.37,1255.41 L1255.41,992.37 M996.97,1260.01 L1260.01,996.97 M1001.56,1264.61 L1264.61,1001.56 M1006.16,1269.2 L1269.2,1006.16 M1010.76,1273.8 L1273.8,1010.76" stroke-width="3.6" stroke="#000"/></g>
<path d="M1101.4,1138 L1111.8,1138 L1120.4,1150 L1120.4,1161 L1111,1161 L1101.4,1155 Z" stroke-width="2.8"/>
<line x1="1095.4" y1="1118.8" x2="1127.3" y2="1118.8" stroke-width="1.8" stroke-dasharray="9 4"/>
<polygon points="1109.4,1161.02 1110.28,1165.43 1111.22,1169.81 1112.19,1174.13 1113.22,1178.39 1114.29,1182.59 1115.41,1186.72 1116.57,1190.8 1117.79,1194.82 1119.06,1198.78 1120.38,1202.68 1121.76,1206.53 1123.19,1210.31 1124.67,1214.04 1126.22,1217.71 1127.82,1221.33 1129.48,1224.89 1131.2,1228.39 1132.99,1231.83 1134.84,1235.22 1136.75,1238.55 1138.72,1241.83 1140.76,1245.05 1142.87,1248.21 1145.05,1251.32 1147.3,1254.37 1149.61,1257.37 1152,1260.31 1154.46,1263.2 1156.99,1266.03 1159.59,1268.81 1162.27,1271.54 1165.02,1274.21 1167.85,1276.82 1170.75,1279.38 1173.74,1281.89 1176.8,1284.34 1179.94,1286.74 1183.15,1289.09 1186.45,1291.39 1189.83,1293.63 1193.3,1295.82 1196.84,1297.96 1200.47,1300.05 1204.18,1302.09 1207.98,1304.08 1211.86,1306.02 1215.83,1307.91 1219.85,1309.73 1224.15,1300.27 1220.22,1298.48 1216.42,1296.67 1212.71,1294.82 1209.1,1292.93 1205.57,1290.99 1202.12,1289 1198.76,1286.98 1195.49,1284.9 1192.3,1282.78 1189.19,1280.62 1186.16,1278.41 1183.21,1276.15 1180.34,1273.85 1177.54,1271.5 1174.82,1269.1 1172.17,1266.65 1169.6,1264.16 1167.09,1261.61 1164.66,1259.01 1162.29,1256.37 1160,1253.67 1157.77,1250.92 1155.6,1248.11 1153.5,1245.26 1151.46,1242.34 1149.48,1239.38 1147.57,1236.36 1145.71,1233.28 1143.91,1230.14 1142.17,1226.95 1140.49,1223.7 1138.86,1220.39 1137.29,1217.02 1135.77,1213.59 1134.3,1210.1 1132.88,1206.55 1131.52,1202.94 1130.2,1199.26 1128.94,1195.53 1127.72,1191.73 1126.55,1187.87 1125.43,1183.94 1124.35,1179.95 1123.31,1175.89 1122.32,1171.77 1121.38,1167.58 1120.47,1163.33 1119.6,1158.98" stroke-width="0" fill="#000" />
<g clip-path="url(#c13)"><path d="M537.69,1723.52 L1723.52,537.69 M542.64,1728.47 L1728.47,542.64 M547.59,1733.42 L1733.42,547.59 M552.54,1738.37 L1738.37,552.54 M557.49,1743.32 L1743.32,557.49 M562.44,1748.26 L1748.26,562.44 M567.39,1753.21 L1753.21,567.39 M572.34,1758.16 L1758.16,572.34 M577.29,1763.11 L1763.11,577.29 M582.24,1768.06 L1768.06,582.24 M587.19,1773.01 L1773.01,587.19 M592.14,1777.96 L1777.96,592.14 M597.09,1782.91 L1782.91,597.09 M602.04,1787.86 L1787.86,602.04 M606.99,1792.81 L1792.81,606.99 M611.93,1797.76 L1797.76,611.93 M616.88,1802.71 L1802.71,616.88 M621.83,1807.66 L1807.66,621.83 M626.78,1812.61 L1812.61,626.78 M631.73,1817.56 L1817.56,631.73 M636.68,1822.51 L1822.51,636.68 M641.63,1827.46 L1827.46,641.63 M646.58,1832.41 L1832.41,646.58 M651.53,1837.36 L1837.36,651.53 M656.48,1842.31 L1842.31,656.48 M661.43,1847.26 L1847.26,661.43 M666.38,1852.21 L1852.21,666.38 M671.33,1857.16 L1857.16,671.33 M676.28,1862.11 L1862.11,676.28" stroke-width="1.8" stroke="#fff"/></g>
<g clip-path="url(#c14)"><path d="M1072.26,1432.04 L1432.04,1072.26 M1076.86,1436.63 L1436.63,1076.86 M1081.45,1441.23 L1441.23,1081.45 M1086.05,1445.83 L1445.83,1086.05 M1090.65,1450.42 L1450.42,1090.65 M1095.24,1455.02 L1455.02,1095.24 M1099.84,1459.62 L1459.62,1099.84 M1104.44,1464.21 L1464.21,1104.44 M1109.03,1468.81 L1468.81,1109.03 M1113.63,1473.4 L1473.4,1113.63" stroke-width="3.6" stroke="#000"/></g>
<path d="M1207.5,1306.8 L1231.7,1306.8 L1231.7,1341 L1226,1347.4 L1207.5,1347.4 Z" stroke-width="2.8"/>
<line x1="1120.4" y1="1125.2" x2="1227.4" y2="1125.2" stroke-width="2.5" />
<polygon points="1120.4,1125.2 1136.4,1122.6 1136.4,1127.8" stroke-width="0.8" fill="#000" stroke="#000"/>
<polygon points="1227.4,1125.2 1211.4,1127.8 1211.4,1122.6" stroke-width="0.8" fill="#000" stroke="#000"/>
<text transform="translate(1174.7,1120) scale(0.79,1) skewX(-7)" text-anchor="middle" font-size="35" font-style="italic" fill="#000" stroke="#000" stroke-width="1.0" >124</text>
<line x1="1237.7" y1="1050" x2="1299" y2="1050" stroke-width="2.5" />
<line x1="1237.7" y1="1306" x2="1299" y2="1306" stroke-width="2.5" />
<line x1="1293" y1="1050" x2="1293" y2="1306" stroke-width="2.5" />
<polygon points="1293,1050 1295.6,1066 1290.4,1066" stroke-width="0.8" fill="#000" stroke="#000"/>
<polygon points="1293,1306 1290.4,1290 1295.6,1290" stroke-width="0.8" fill="#000" stroke="#000"/>
<text transform="translate(1287.4,1178.3) rotate(-90) scale(0.79,1) skewX(-7)" text-anchor="middle" font-size="35" font-style="italic" fill="#000" stroke="#000" stroke-width="1.0">287</text>
<line x1="1101.4" y1="1228.3" x2="1101.4" y2="1383.6" stroke-width="2.5" />
<line x1="1094.5" y1="1306.8" x2="1200.6" y2="1306.8" stroke-width="2.5" />
<line x1="1094.5" y1="1346.5" x2="1200.6" y2="1346.5" stroke-width="2.5" />
<polygon points="1101.4,1306.8 1098.8,1290.8 1104,1290.8" stroke-width="0.8" fill="#000" stroke="#000"/>
<polygon points="1101.4,1346.5 1104,1362.5 1098.8,1362.5" stroke-width="0.8" fill="#000" stroke="#000"/>
<text transform="translate(1095.9,1250.8) rotate(-90) scale(0.79,1) skewX(-7)" text-anchor="middle" font-size="35" font-style="italic" fill="#000" stroke="#000" stroke-width="1.0">44</text>
<line x1="1208.4" y1="1354.3" x2="1208.4" y2="1406" stroke-width="2.5" />
<line x1="1230" y1="1354.3" x2="1230" y2="1406" stroke-width="2.5" />
<line x1="1172" y1="1400" x2="1311" y2="1400" stroke-width="2.5" />
<polygon points="1208.4,1400 1192.4,1402.6 1192.4,1397.4" stroke-width="0.8" fill="#000" stroke="#000"/>
<polygon points="1230,1400 1246,1397.4 1246,1402.6" stroke-width="0.8" fill="#000" stroke="#000"/>
<text transform="translate(1287.5,1394) scale(0.79,1) skewX(-7)" text-anchor="middle" font-size="35" font-style="italic" fill="#000" stroke="#000" stroke-width="1.0" >24</text>
<path d="M252.8,1958.8 L252.8,1592.2 A40,40 0 0 1 292.8,1552.2 L748.6,1552.2 A40,40 0 0 1 788.6,1592.2 L788.6,1958.8 Z" stroke-width="3.2" fill="none" />
<path d="M521,1574.9 L293.4,1574.9 A19,19 0 0 0 274.4,1593.9 L274.4,1611 Q274.4,1617.6 281,1617.6 C293,1617.6 300,1625 300,1632 C300,1639 295,1646.5 281,1646.5 Q274.4,1646.5 274.4,1652 L274.4,1840 Q274.4,1846.5 282,1846.5 C292,1846.5 298,1853 298,1861 C298,1869 292,1876.5 282,1876.5 Q274.4,1876.5 274.4,1884 L274.4,1936.7 A8.5,8.5 0 0 0 282.9,1945.2 L521,1945.2" stroke-width="3" fill="none" />
<path d="M521,1574.9 L748,1574.9 A19,19 0 0 1 767,1593.9 L767,1611 Q767,1617.6 760.4,1617.6 C748.4,1617.6 741.4,1625 741.4,1632 C741.4,1639 746.4,1646.5 760.4,1646.5 Q767,1646.5 767,1652 L767,1836 Q767,1845 758,1846.5 C748,1849 741,1858 739.8,1868 C738,1880 724,1885 717.6,1888.7 C711,1892 708.7,1898 708.7,1905 L708.7,1936.7 A8.5,8.5 0 0 1 700.2,1945.2 L521,1945.2" stroke-width="3" fill="none" />
<path d="M521,1587.7 L331,1587.7 C326,1587.7 324,1585.5 321,1585.5 L295.5,1585.5 A10,10 0 0 0 285.5,1595.5 L285.5,1603.2 Q285.5,1606.5 290,1607 C297,1610 300.4,1620 300.4,1628.7 C300.4,1640 297,1650 292,1655 Q289,1658 285.5,1659 L285.5,1833.2 C292,1836 300,1846 302,1858 C303,1868 301,1876 296.6,1880.4 C293,1883 287,1885 286,1887 L286.6,1927.2 A7,7 0 0 0 293.6,1934.2 L521,1934.2" stroke-width="3" fill="none" />
<path d="M521,1587.7 L710.4,1587.7 C715.4,1587.7 717.4,1585.5 720.4,1585.5 L745.9,1585.5 A10,10 0 0 1 755.9,1595.5 L755.9,1603.2 Q755.9,1606.5 751.4,1607 C744.4,1610 741,1620 741,1628.7 C741,1640 744.4,1650 749.4,1655 Q752.4,1658 755.9,1659 L755.9,1833.2 Q755.9,1838 749.8,1838.8 C745,1842 739.5,1852 738.7,1864.3 C737,1874 728,1876 711,1881 C703,1884 697.6,1893 697.6,1902 L697.6,1927.7 A6.5,6.5 0 0 1 691.1,1934.2 L521,1934.2" stroke-width="3" fill="none" />
<line x1="293.2" y1="1654" x2="293.2" y2="1834" stroke-width="3" />
<line x1="748.2" y1="1654" x2="748.2" y2="1834" stroke-width="3" />
<line x1="521" y1="1588" x2="521" y2="1727" stroke-width="3" />
<path d="M299.5,1627 C360,1680 400,1735 476,1746" stroke-width="3" fill="none" />
<path d="M741.9,1627 C681.4,1680 641.4,1735 565.4,1746" stroke-width="3" fill="none" />
<path d="M300,1845.5 Q521,1794.5 741.4,1845.5" stroke-width="3" fill="none" />
<circle cx="521" cy="1780" r="53.5" stroke-width="3" fill="#fff"/>
<circle cx="521" cy="1780" r="41" stroke-width="3" />
<circle cx="521" cy="1780" r="21" stroke-width="3" />
<line x1="468" y1="1780" x2="574" y2="1780" stroke-width="1.8" stroke-dasharray="7 3.5"/>
<line x1="521" y1="1727" x2="521" y2="1833" stroke-width="1.8" stroke-dasharray="7 3.5"/>
<path d="M400.3,1871.5 Q520.7,1807.3 641,1871.5 L635,1887.5 Q520.7,1838.1 406.5,1887.5 Z" stroke-width="3" fill="none" />
<path d="M302.1,1877.6 C315,1886 322,1889.8 332,1889.8 L406.5,1889.8" stroke-width="3" fill="none" />
<path d="M636.6,1889.8 L702,1889.8" stroke-width="3" fill="none" />
<ellipse cx="521" cy="1853" rx="24.6" ry="7" stroke-width="2.5" />
<rect x="506" y="1848.5" width="30" height="9" rx="4.5" stroke-width="3.2"/>
<circle cx="521" cy="1904.7" r="16.5" stroke-width="3" />
<line x1="499" y1="1904.7" x2="543" y2="1904.7" stroke-width="2" />
<line x1="521" y1="1883" x2="521" y2="1926" stroke-width="2" />
<line x1="619.7" y1="1470" x2="619.7" y2="1611.6" stroke-width="2.5" />
<polygon points="619.7,1552.2 617.1,1536.2 622.3,1536.2" stroke-width="0.8" fill="#000" stroke="#000"/>
<polygon points="619.7,1574.9 622.3,1590.9 617.1,1590.9" stroke-width="0.8" fill="#000" stroke="#000"/>
<text transform="translate(614.6,1493) rotate(-90) scale(0.79,1) skewX(-7)" text-anchor="middle" font-size="35" font-style="italic" fill="#000" stroke="#000" stroke-width="1.0">25</text>
<line x1="170" y1="1780.4" x2="311.6" y2="1780.4" stroke-width="2.5" />
<polygon points="252.8,1780.4 236.8,1783 236.8,1777.8" stroke-width="0.8" fill="#000" stroke="#000"/>
<polygon points="274.4,1780.4 290.4,1777.8 290.4,1783" stroke-width="0.8" fill="#000" stroke="#000"/>
<text transform="translate(193.5,1774) scale(0.79,1) skewX(-7)" text-anchor="middle" font-size="35" font-style="italic" fill="#000" stroke="#000" stroke-width="1.0" >25</text>
<line x1="729" y1="1780.4" x2="871.9" y2="1780.4" stroke-width="2.5" />
<polygon points="788.6,1780.4 804.6,1777.8 804.6,1783" stroke-width="0.8" fill="#000" stroke="#000"/>
<polygon points="767,1780.4 751,1783 751,1777.8" stroke-width="0.8" fill="#000" stroke="#000"/>
<text transform="translate(846.5,1774) scale(0.79,1) skewX(-7)" text-anchor="middle" font-size="35" font-style="italic" fill="#000" stroke="#000" stroke-width="1.0" >25</text>
<line x1="619.7" y1="1908.4" x2="619.7" y2="2034" stroke-width="2.5" />
<polygon points="619.7,1945.2 617.1,1929.2 622.3,1929.2" stroke-width="0.8" fill="#000" stroke="#000"/>
<polygon points="619.7,1958.8 622.3,1974.8 617.1,1974.8" stroke-width="0.8" fill="#000" stroke="#000"/>
<text transform="translate(614.6,2014) rotate(-90) scale(0.79,1) skewX(-7)" text-anchor="middle" font-size="35" font-style="italic" fill="#000" stroke="#000" stroke-width="1.0">15</text>
<path d="M1515.5,1774.5 L1290.17,1905.85 L1287.11,1907.47 L1283.79,1908.91 L1280.26,1910.16 L1276.53,1911.2 L1272.64,1912.03 L1268.64,1912.64 L1264.56,1913.03 L1260.44,1913.18 L1256.32,1913.09 L1252.24,1912.78 L1248.24,1912.23 L1244.36,1911.46 L1240.63,1910.48 L1237.09,1909.29 L1233.77,1907.9 L1230.72,1906.32 L946.84,1744.92 L944.9,1743.75 L943.11,1742.5 L941.46,1741.19 L939.96,1739.82 L938.62,1738.4 L937.45,1736.93 L936.45,1735.42 L935.62,1733.87 L934.98,1732.3 L934.51,1730.7 L934.23,1729.1 L934.13,1727.48" stroke-width="3" fill="none" />
<line x1="1515.5" y1="1759.5" x2="1515.5" y2="1774.5" stroke-width="2.4" />
<line x1="934.13" y1="1712.48" x2="934.13" y2="1727.48" stroke-width="2.4" />
<line x1="1230.72" y1="1891.32" x2="1230.72" y2="1906.32" stroke-width="2.4" />
<line x1="1290.17" y1="1890.85" x2="1290.17" y2="1905.85" stroke-width="2.4" />
<line x1="946.84" y1="1729.92" x2="946.84" y2="1744.92" stroke-width="2.4" />
<path d="M1178,1562.5 L1515.5,1759.5 L1290.17,1890.85 L1285.15,1893.35 L1279.52,1895.38 L1273.43,1896.88 L1267.02,1897.82 L1260.44,1898.18 L1253.87,1897.93 L1247.45,1897.1 L1241.36,1895.69 L1235.73,1893.75 L1230.72,1891.32 L946.84,1729.92 L942.43,1726.98 L938.88,1723.69 L936.27,1720.11 L934.67,1716.34 L934.13,1712.48 L934.65,1708.61 L936.23,1704.84 L938.82,1701.26 L942.35,1697.95 L946.75,1695 Z" stroke-width="3" fill="none" />
<path d="M1178,1562.5 L1515.5,1759.5 L1290.17,1890.85 L1285.15,1893.35 L1279.52,1895.38 L1273.43,1896.88 L1267.02,1897.82 L1260.44,1898.18 L1253.87,1897.93 L1247.45,1897.1 L1241.36,1895.69 L1235.73,1893.75 L1230.72,1891.32 L946.84,1729.92 L942.43,1726.98 L938.88,1723.69 L936.27,1720.11 L934.67,1716.34 L934.13,1712.48 L934.65,1708.61 L936.23,1704.84 L938.82,1701.26 L942.35,1697.95 L946.75,1695 Z M956.84,1700.75 L953.9,1702.73 L951.53,1704.95 L949.8,1707.35 L948.74,1709.87 L948.39,1712.46 L948.75,1715.05 L949.82,1717.57 L951.57,1719.97 L953.94,1722.18 L956.9,1724.15 L1240.56,1885.59 L1243.92,1887.22 L1247.69,1888.52 L1251.77,1889.47 L1256.07,1890.03 L1260.48,1890.19 L1264.89,1889.96 L1269.19,1889.33 L1273.27,1888.32 L1277.04,1886.96 L1280.41,1885.28 L1496.2,1759.56 L1177.97,1573.99 Z" fill="#000" stroke="none" fill-rule="evenodd"/>
<path d="M1177.98,1571.77 L1499.94,1759.55 L1281.98,1886.55 L1278.35,1888.36 L1274.28,1889.83 L1269.87,1890.91 L1265.23,1891.59 L1260.47,1891.84 L1255.71,1891.67 L1251.07,1891.06 L1246.67,1890.04 L1242.6,1888.64 L1238.97,1886.88 L954.63,1725.08 L951.44,1722.96 L948.87,1720.57 L946.99,1717.98 L945.83,1715.26 L945.44,1712.47 L945.82,1709.67 L946.96,1706.94 L948.83,1704.35 L951.39,1701.96 L954.57,1699.82 Z" stroke-width="1.1" fill="none" stroke="#fff" stroke-dasharray="1.5 2.5"/>
<path d="M1174.1,1584.72 L1174.75,1584.4 L1175.48,1584.15 L1176.27,1583.96 L1177.1,1583.85 L1177.95,1583.81 L1178.8,1583.86 L1179.63,1583.97 L1180.41,1584.17 L1181.14,1584.43 L1181.79,1584.75 L1478.14,1757.43 L1478.68,1757.8 L1479.11,1758.21 L1479.42,1758.65 L1479.61,1759.12 L1479.67,1759.61 L1479.6,1760.09 L1479.41,1760.56 L1479.08,1761.01 L1478.65,1761.42 L1478.1,1761.79 L1273.16,1881.15 L1271.03,1882.22 L1268.63,1883.08 L1266.03,1883.72 L1263.3,1884.12 L1260.5,1884.27 L1257.71,1884.16 L1254.98,1883.8 L1252.38,1883.21 L1249.99,1882.38 L1247.86,1881.34 L964.36,1719.87 L962.48,1718.62 L960.97,1717.22 L959.87,1715.7 L959.19,1714.09 L958.96,1712.45 L959.18,1710.81 L959.85,1709.2 L960.95,1707.68 L962.46,1706.27 L964.32,1705.02 Z" stroke-width="3.4" fill="none" />
<path d="M1207.86,1643.24 L1168.95,1620.63 L1168.95,1620.63 L1166.03,1619.18 L1162.77,1618.02 L1159.22,1617.17 L1155.49,1616.65 L1151.66,1616.47 L1147.83,1616.64 L1144.1,1617.16 L1140.54,1618.01 L1137.26,1619.17 L1134.34,1620.62 L986.13,1706.24 L986.13,1706.24 L983.61,1707.94 L981.58,1709.85 L980.09,1711.92 L979.18,1714.09 L978.88,1716.32 L979.18,1718.55 L980.09,1720.71 L981.57,1722.77 L983.6,1724.67 L986.12,1726.36 L1242.93,1873.09 L1242.93,1873.09 L1245.82,1874.49 L1249.05,1875.61 L1252.56,1876.42 L1256.25,1876.9 L1260.03,1877.03 L1263.82,1876.83 L1267.51,1876.28 L1271.02,1875.4 L1274.25,1874.22 L1277.14,1872.77 L1422.12,1787.54 L1422.12,1787.54 L1424.57,1785.86 L1426.54,1783.98 L1427.99,1781.94 L1428.88,1779.81 L1429.19,1777.62 L1428.91,1775.44 L1428.05,1773.31 L1426.62,1771.29 L1424.67,1769.43 L1422.24,1767.78 L1384.09,1745.61" stroke-width="3" fill="none" />
<line x1="1207.86" y1="1643.24" x2="1217.2" y2="1650.3" stroke-width="3" />
<line x1="1384.09" y1="1745.61" x2="1375.9" y2="1741.3" stroke-width="3" />
<path d="M1236.75,1619.84 C1238.55,1621.26 1246.25,1625.63 1247.54,1628.35 C1248.82,1631.08 1247.91,1633.18 1244.45,1636.19 C1241,1639.21 1230.74,1643.93 1226.78,1646.44 C1222.82,1648.96 1221.57,1649.68 1220.71,1651.3 C1219.86,1652.91 1221.49,1655.33 1221.65,1656.14" stroke-width="3" fill="none" />
<path d="M1424.11,1729.03 C1421.71,1728 1414.34,1723.58 1409.72,1722.85 C1405.1,1722.12 1401.53,1722.65 1396.4,1724.66 C1391.27,1726.66 1383.22,1732.6 1378.93,1734.89 C1374.64,1737.18 1373.42,1737.91 1370.67,1738.41 C1367.92,1738.91 1363.8,1737.98 1362.43,1737.89" stroke-width="3" fill="none" />
<path d="M1221.65,1656.14 L1227.76,1662.85 L1234.24,1669.35 L1241.07,1675.63 L1248.26,1681.7 L1255.8,1687.55 L1263.71,1693.18 L1271.96,1698.61 L1280.58,1703.81 L1289.54,1708.8 L1298.87,1713.58 L1308.54,1718.14 L1318.57,1722.49 L1328.94,1726.63 L1339.67,1730.55 L1350.75,1734.25 L1362.18,1737.74" stroke-width="3" fill="none" />
<path d="M1221.65,1659.14 L1227.76,1665.85 L1234.24,1672.35 L1241.07,1678.63 L1248.26,1684.7 L1255.8,1690.55 L1263.71,1696.18 L1271.96,1701.61 L1280.58,1706.81 L1289.54,1711.8 L1298.87,1716.58 L1308.54,1721.14 L1318.57,1725.49 L1328.94,1729.63 L1339.67,1733.55 L1350.75,1737.25 L1362.18,1740.74" stroke-width="1.6" fill="none" />
<path d="M1217.2,1650.3 C1215.83,1654.42 1210.73,1667.38 1209,1675 C1207.27,1682.62 1206.8,1688.5 1206.8,1696 C1206.8,1703.5 1206.78,1711.35 1209,1720 C1211.22,1728.65 1214.05,1738.32 1220.1,1747.9 C1226.15,1757.48 1236.98,1769.98 1245.3,1777.5 C1253.62,1785.02 1260.88,1789.08 1270,1793 C1279.12,1796.92 1290.5,1799.45 1300,1801 C1309.5,1802.55 1318.33,1802.8 1327,1802.3 C1335.67,1801.8 1345.83,1800.38 1352,1798 C1358.17,1795.62 1360.92,1797.45 1364,1788 C1367.08,1778.55 1369.42,1749.08 1370.5,1741.3" stroke-width="3" fill="none" />
<path d="M1211,1700 C1211.33,1703.67 1210.67,1713.5 1213,1722 C1215.33,1730.5 1218.83,1741 1225,1751 C1231.17,1761 1241.67,1774.17 1250,1782 C1258.33,1789.83 1266.67,1794.17 1275,1798 C1283.33,1801.83 1290.83,1803.33 1300,1805 C1309.17,1806.67 1321,1807.33 1330,1808 C1339,1808.67 1344.33,1809.83 1354,1809 C1363.67,1808.17 1377,1806.17 1388,1803 C1399,1799.83 1413.33,1793.83 1420,1790 C1426.67,1786.17 1426.67,1781.67 1428,1780" stroke-width="3" fill="none" />
<path d="M1428,1780 C1427.83,1779 1428.45,1775.93 1427,1774 C1425.55,1772.07 1420.58,1769.33 1419.3,1768.4" stroke-width="3" fill="none" />
<line x1="1419.3" y1="1768.4" x2="1375.9" y2="1741.3" stroke-width="3" />
<line x1="1367.8" y1="1787.4" x2="1416.6" y2="1771.2" stroke-width="2.4" />
<line x1="1166.9" y1="1623.7" x2="1206.8" y2="1693.2" stroke-width="2.6" />
<path d="M1132.9,1623.7 C1137.42,1631.75 1151.13,1656.23 1160,1672 C1168.87,1687.77 1175.58,1703.18 1186.1,1718.3 C1196.62,1733.42 1213.23,1751.62 1223.1,1762.7 C1232.97,1773.78 1238.82,1779.08 1245.3,1784.8 C1251.78,1790.52 1259.22,1794.97 1262,1797" stroke-width="2.6" fill="none" />
<path d="M985,1706 C994.17,1710.67 1022.5,1725 1040,1734 C1057.5,1743 1071.67,1751 1090,1760 C1108.33,1769 1131.63,1779.18 1150,1788 C1168.37,1796.82 1191.83,1808.75 1200.2,1812.9" stroke-width="2.6" fill="none" />
<ellipse cx="1233" cy="1808" rx="32.4" ry="18.4" stroke-width="3" />
<ellipse cx="1233" cy="1806.5" rx="28" ry="14.8" stroke-width="2.2" />
<ellipse cx="1234.6" cy="1813.7" rx="20.8" ry="9.6" stroke-width="3" />
<ellipse cx="1234" cy="1816.5" rx="17" ry="7" stroke-width="2.2" />
<line x1="1211.4" y1="1824" x2="1176" y2="1833.7" stroke-width="2.4" />
<path d="M1230.6,1828.9 C1233.83,1830.75 1245.1,1835.65 1250,1840 C1254.9,1844.35 1257.37,1849.38 1260,1855 C1262.63,1860.62 1264.83,1870.58 1265.8,1873.7" stroke-width="2.6" fill="none" />
<ellipse cx="1312.5" cy="1683.5" rx="14.8" ry="8.1" stroke-width="2.8" />
<ellipse cx="1312.5" cy="1686" rx="9.6" ry="3.7" stroke-width="2.2" />
<ellipse cx="1273.4" cy="1728.7" rx="8.9" ry="12.6" transform="rotate(-18 1273.4 1728.7)" stroke-width="2.8"/>
<ellipse cx="1275.5" cy="1730" rx="4.5" ry="10" transform="rotate(-18 1275.5 1730)" stroke-width="2"/>
</svg>
</body></html>
